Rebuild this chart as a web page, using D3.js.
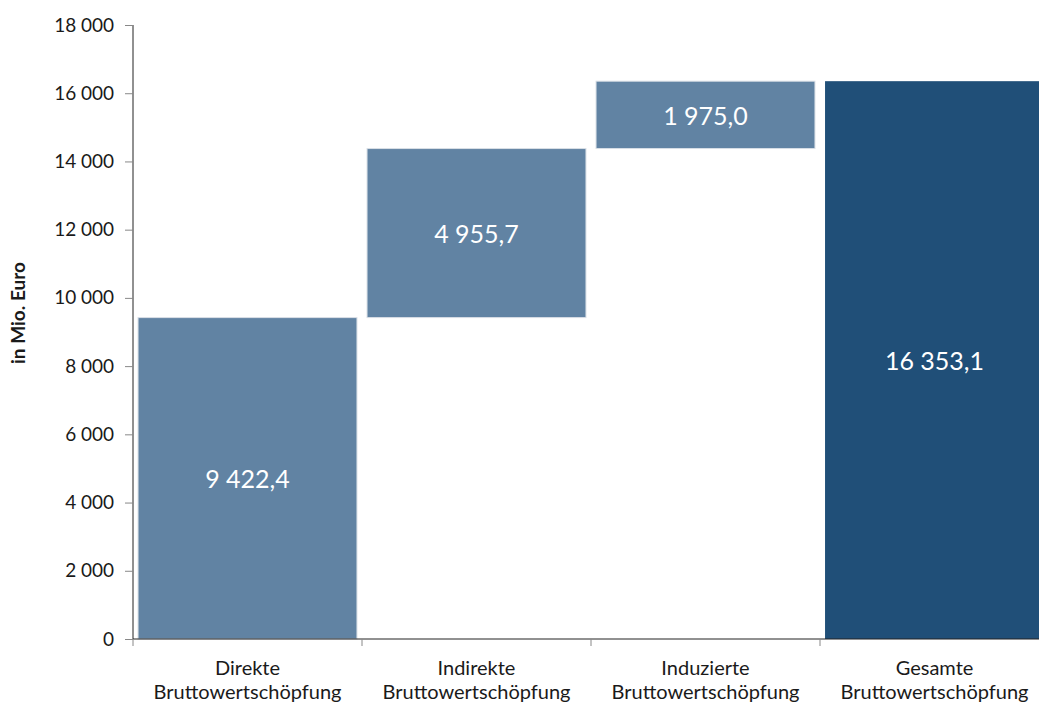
<!DOCTYPE html>
<html>
<head>
<meta charset="utf-8">
<script src="https://cdn.jsdelivr.net/npm/d3@7"></script>
<style>
  body { margin: 0; background: #fff; overflow: hidden; }
  svg { display: block; font-family: Lato, "Open Sans", sans-serif; }
</style>
</head>
<body>
<svg id="chart" width="1039" height="702"></svg>
<script>
// categories (two label lines each) and values in Mio. Euro
const categories = ['Direkte', 'Indirekte', 'Induzierte', 'Gesamte'];
const categoryLine2 = ['Bruttowertschöpfung', 'Bruttowertschöpfung', 'Bruttowertschöpfung', 'Bruttowertschöpfung'];
const values = [9422.4, 4955.7, 1975.0, 16353.1];
const isTotal = [false, false, false, true];
const yTicks = [0, 2000, 4000, 6000, 8000, 10000, 12000, 14000, 16000, 18000];

const STEP_COLOR = '#6183a3';
const TOTAL_COLOR = '#204f78';
const TEXT_COLOR = '#1a1a1a';

const svg = d3.select('#chart');

const yScale = d3.scaleLinear().domain([0, 18000]).range([639, 25]);
const xScale = d3.scaleBand()
    .domain(categories)
    .range([133, 1049])
    .paddingInner(0.044)
    .paddingOuter(0.022);

// waterfall offsets
let running = 0;
const bars = categories.map((c, i) => {
    const start = isTotal[i] ? 0 : running;
    const end = isTotal[i] ? values[i] : running + values[i];
    if (!isTotal[i]) running = end;
    return { cat: c, line2: categoryLine2[i], value: values[i], start, end, total: isTotal[i] };
});

const fmtTick = v => d3.format(',')(v).replace(/,/g, '\u202F');
const fmtVal = v => d3.format(',.1f')(v).replace(/,/g, '#').replace('.', ',').replace(/#/g, '\u202F');

// y axis
const yAxis = svg.append('g')
    .attr('transform', 'translate(133,0)')
    .call(d3.axisLeft(yScale).tickValues(yTicks).tickSize(8).tickPadding(11).tickFormat(fmtTick));
yAxis.select('.domain').attr('stroke', '#222').attr('d', `M0,${yScale(18000)}V${yScale(0)}`);
yAxis.selectAll('.tick line').attr('stroke', '#888');
yAxis.selectAll('.tick text')
    .attr('fill', TEXT_COLOR)
    .style('font-size', '19px')
    .style('font-family', 'Lato, "Open Sans", sans-serif');

// bars
svg.append('g').selectAll('rect')
    .data(bars)
    .enter().append('rect')
    .attr('x', d => xScale(d.cat))
    .attr('width', xScale.bandwidth())
    .attr('y', d => yScale(d.end))
    .attr('height', d => yScale(d.start) - yScale(d.end))
    .attr('fill', d => d.total ? TOTAL_COLOR : STEP_COLOR)
    .attr('stroke', d => d.total ? 'none' : '#d9dfe6')
    .attr('stroke-width', 1);

// value labels
svg.append('g').selectAll('text')
    .data(bars)
    .enter().append('text')
    .attr('x', d => xScale(d.cat) + xScale.bandwidth() / 2)
    .attr('y', d => (yScale(d.start) + yScale(d.end)) / 2)
    .attr('text-anchor', 'middle')
    .attr('dominant-baseline', 'central')
    .attr('fill', '#fff')
    .style('font-size', '25px')
    .text(d => fmtVal(d.value));

// x axis line and category separators
const step = xScale.step();
const xAxisG = svg.append('g');
xAxisG.append('line')
    .attr('x1', 133).attr('x2', 1039)
    .attr('y1', yScale(0)).attr('y2', yScale(0))
    .attr('stroke', '#222');
xAxisG.selectAll('.sep')
    .data(categories)
    .enter().append('line')
    .attr('class', 'sep')
    .attr('x1', d => xScale(d) - step * xScale.paddingInner() / 2)
    .attr('x2', d => xScale(d) - step * xScale.paddingInner() / 2)
    .attr('y1', yScale(0)).attr('y2', yScale(0) + 7)
    .attr('stroke', '#888');

// category labels (descenders of the second line touch the bottom edge, as in the original)
const catLabels = svg.append('g').selectAll('text')
    .data(bars)
    .enter().append('text')
    .attr('x', d => xScale(d.cat) + xScale.bandwidth() / 2)
    .attr('y', 675)
    .attr('text-anchor', 'middle')
    .attr('fill', TEXT_COLOR)
    .style('font-size', '20px');
catLabels.append('tspan').text(d => d.cat);
catLabels.append('tspan')
    .attr('x', d => xScale(d.cat) + xScale.bandwidth() / 2)
    .attr('dy', 24)
    .text(d => d.line2);

// y axis title
svg.append('text')
    .attr('transform', 'translate(25,313) rotate(-90)')
    .attr('text-anchor', 'middle')
    .attr('fill', TEXT_COLOR)
    .style('font-size', '19px')
    .style('font-weight', '700')
    .text('in Mio. Euro');
</script>
</body>
</html>
